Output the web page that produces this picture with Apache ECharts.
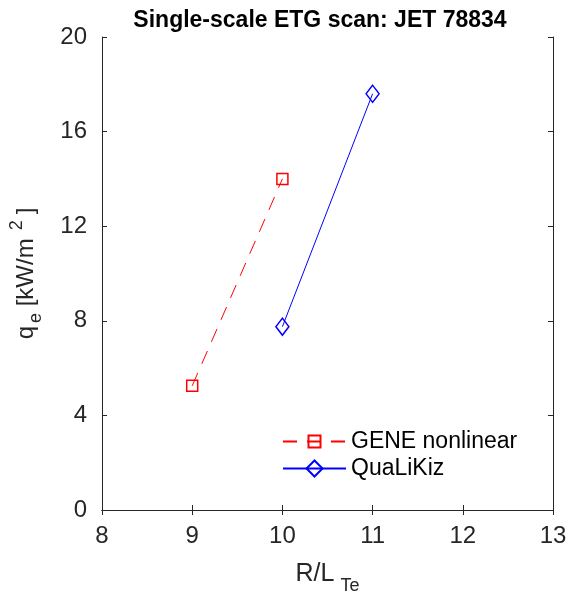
<!DOCTYPE html>
<html><head><meta charset="utf-8">
<script src="https://cdn.jsdelivr.net/npm/echarts@6/dist/echarts.min.js"></script>
<style>html,body{margin:0;padding:0;background:#fff}#c{width:568px;height:592px}</style>
</head><body><div id="c"></div>
<script>
const geneX = [9, 10];
const geneY = [5.25, 14.0];
const qlkX = [10, 11];
const qlkY = [7.75, 17.6];
const xTicks = [8, 9, 10, 11, 12, 13];
const yTicks = [0, 4, 8, 12, 16, 20];
const seriesNames = ['GENE nonlinear', 'QuaLiKiz'];

const F = 'Liberation Sans, Arial, sans-serif';
const axisCol = '#262626';
const chart = echarts.init(document.getElementById('c'));
const baseAxis = {
  axisLine: {show: true, lineStyle: {color: axisCol, width: 1}},
  axisTick: {show: true, inside: true, length: 5, lineStyle: {color: axisCol}},
  splitLine: {show: false}
};
chart.setOption({
  animation: false,
  title: {text: 'Single-scale ETG scan: JET 78834', left: 315, textAlign: 'center', top: 4,
    textStyle: {fontFamily: F, fontSize: 23, fontWeight: 'bold', color: '#000'}},
  grid: {left: 102, right: 15, top: 37, bottom: 82, containLabel: false, outerBoundsMode: 'none'},
  legend: [
    {data: [seriesNames[0]], left: 282, top: 430, padding: 0, itemGap: 8,
      itemWidth: 63, itemHeight: 15,
      textStyle: {fontFamily: F, fontSize: 23, color: '#000'}},
    {data: [seriesNames[1]], left: 282, top: 457, padding: 0, itemGap: 8,
      itemWidth: 63, itemHeight: 20,
      textStyle: {fontFamily: F, fontSize: 23, color: '#000'}}
  ],
  xAxis: [
    Object.assign({type: 'value', min: xTicks[0], max: xTicks[xTicks.length-1], interval: 1,
      axisLabel: {fontFamily: F, fontSize: 24, color: axisCol, margin: 14},
      name: '{m|R/L}{s|Te}', nameLocation: 'middle', nameGap: 43,
      nameTextStyle: {rich: {
        m: {fontFamily: F, fontSize: 25, color: axisCol},
        s: {fontFamily: F, fontSize: 18, color: axisCol, padding: [24, 0, 0, 6]}
      }}}, baseAxis),
    Object.assign({type: 'value', position: 'top', min: xTicks[0], max: xTicks[xTicks.length-1], interval: 1,
      axisLabel: {show: false}}, baseAxis)
  ],
  yAxis: [
    Object.assign({type: 'value', min: yTicks[0], max: yTicks[yTicks.length-1], interval: 4,
      axisLabel: {fontFamily: F, fontSize: 24, color: axisCol, margin: 15},
      name: '{m|q}{s|e}{m| [kW/m}{p|2}{m|]}', nameLocation: 'middle', nameGap: 57, nameRotate: 90,
      nameTextStyle: {rich: {
        m: {fontFamily: F, fontSize: 24, color: axisCol},
        s: {fontFamily: F, fontSize: 18, color: axisCol, padding: [20, 0, 0, 3]},
        p: {fontFamily: F, fontSize: 18, color: axisCol, padding: [0, 6, 18, 8]}
      }}}, baseAxis),
    Object.assign({type: 'value', position: 'right', min: yTicks[0], max: yTicks[yTicks.length-1], interval: 4,
      axisLabel: {show: false}}, baseAxis)
  ],
  series: [
    {name: seriesNames[0], type: 'line', data: geneX.map((x, i) => [x, geneY[i]]),
      symbol: 'rect', symbolSize: 11, showAllSymbol: true,
      lineStyle: {color: '#ff0000', width: 1, type: [14, 10]},
      itemStyle: {color: 'rgba(255,255,255,0)', borderColor: '#ff0000', borderWidth: 1.5}},
    {name: seriesNames[1], type: 'line', data: qlkX.map((x, i) => [x, qlkY[i]]),
      symbol: 'diamond', symbolSize: [13, 17],
      lineStyle: {color: '#0000ff', width: 1},
      itemStyle: {color: 'rgba(255,255,255,0)', borderColor: '#0000ff', borderWidth: 1.5}}
  ]
});
</script></body></html>
